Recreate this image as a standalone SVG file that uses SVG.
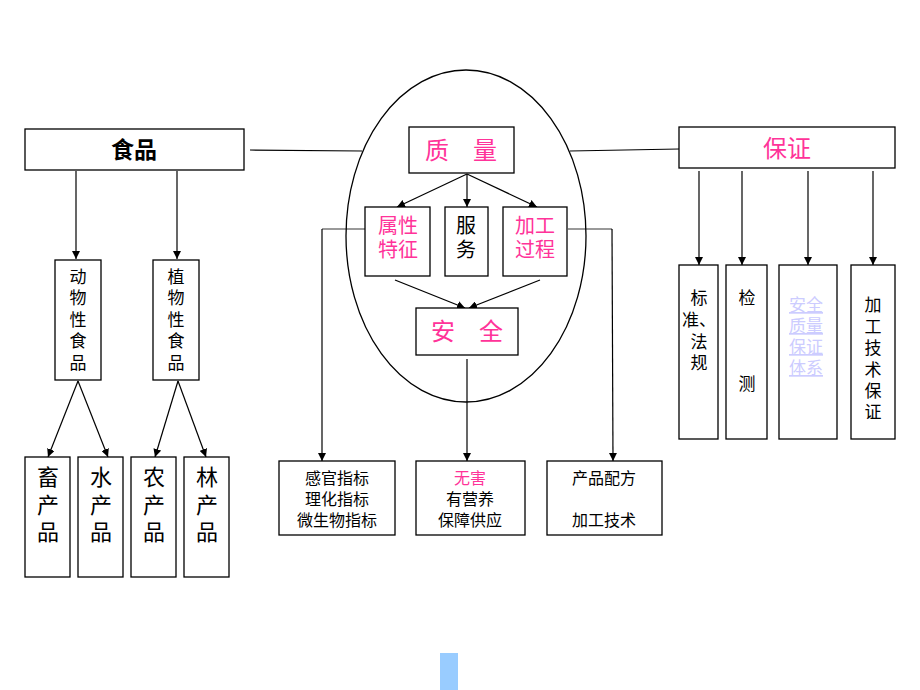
<svg xmlns="http://www.w3.org/2000/svg" width="920" height="690" viewBox="0 0 920 690">
<defs>
<marker id="ah" viewBox="0 0 10 10" refX="10" refY="5" markerWidth="8" markerHeight="8" markerUnits="userSpaceOnUse" orient="auto">
<path d="M0,0 L10,5 L0,10 z" fill="#000"/>
</marker>
<style>
.box{fill:#fff;stroke:#000;stroke-width:1.3}
.t{font-family:"Liberation Sans","Noto Sans CJK SC",sans-serif;text-anchor:middle;fill:#000}
.pk{fill:#FF3399}
.lv{fill:#CCCCFF;text-decoration:underline}
.ln{stroke:#000;stroke-width:1.2;fill:none}
.ar{stroke:#000;stroke-width:1.2;fill:none;marker-end:url(#ah)}
.gr{stroke:#777;stroke-width:1.5;fill:none}
</style>
</defs>
<rect width="920" height="690" fill="#fff"/>

<g id="connectors">
<line class="ln" x1="250" y1="150" x2="362" y2="151"/>
<line class="ln" x1="570" y1="151" x2="679" y2="149"/>
<line class="ar" x1="76" y1="171" x2="76" y2="259"/>
<line class="ar" x1="177" y1="171" x2="177" y2="259"/>
<line class="ar" x1="78" y1="381" x2="48" y2="457"/>
<line class="ar" x1="78" y1="381" x2="108" y2="457"/>
<line class="ar" x1="178" y1="381" x2="155" y2="457"/>
<line class="ar" x1="178" y1="381" x2="206" y2="457"/>
<line class="ar" x1="467" y1="174" x2="397" y2="207"/>
<line class="ar" x1="467" y1="174" x2="467" y2="207"/>
<line class="ar" x1="467" y1="174" x2="537" y2="207"/>
<line class="ar" x1="395" y1="280" x2="465" y2="308"/>
<line class="ar" x1="540" y1="280" x2="469" y2="308"/>
<line class="ar" x1="467" y1="359" x2="467" y2="461"/>
<line class="gr" x1="322" y1="229" x2="365" y2="229"/>
<line class="ar" x1="322" y1="229" x2="322" y2="461"/>
<line class="gr" x1="568" y1="229" x2="612" y2="229"/>
<line class="ar" x1="612" y1="229" x2="613" y2="461"/>
<line class="ar" x1="699" y1="171" x2="699" y2="265"/>
<line class="ar" x1="742" y1="171" x2="742" y2="265"/>
<line class="ar" x1="808" y1="171" x2="808" y2="265"/>
<line class="ar" x1="873" y1="171" x2="873" y2="265"/>
</g>

<g id="ellipse">
<ellipse cx="466" cy="236" rx="120" ry="166" fill="none" stroke="#000" stroke-width="1.3"/>
</g>

<g id="shipin">
<rect class="box" x="25" y="129" width="219" height="41"/>
<text class="t" x="134" y="158" font-size="23" font-weight="bold">食品</text>
</g>

<g id="dongwu">
<rect class="box" x="55" y="260" width="46" height="120"/>
<text class="t" x="78" y="283" font-size="17">动</text>
<text class="t" x="78" y="304" font-size="17">物</text>
<text class="t" x="78" y="326" font-size="17">性</text>
<text class="t" x="78" y="347" font-size="17">食</text>
<text class="t" x="78" y="369" font-size="17">品</text>
</g>
<g id="zhiwu">
<rect class="box" x="153" y="260" width="46" height="120"/>
<text class="t" x="176" y="283" font-size="17">植</text>
<text class="t" x="176" y="304" font-size="17">物</text>
<text class="t" x="176" y="326" font-size="17">性</text>
<text class="t" x="176" y="347" font-size="17">食</text>
<text class="t" x="176" y="369" font-size="17">品</text>
</g>

<g id="xu">
<rect class="box" x="25" y="457" width="45" height="120"/>
<text class="t" x="48" y="485" font-size="22">畜</text>
<text class="t" x="48" y="513" font-size="22">产</text>
<text class="t" x="48" y="540" font-size="22">品</text>
</g>
<g id="shui">
<rect class="box" x="78" y="457" width="45" height="120"/>
<text class="t" x="101" y="485" font-size="22">水</text>
<text class="t" x="101" y="513" font-size="22">产</text>
<text class="t" x="101" y="540" font-size="22">品</text>
</g>
<g id="nong">
<rect class="box" x="131" y="457" width="45" height="120"/>
<text class="t" x="154" y="485" font-size="22">农</text>
<text class="t" x="154" y="513" font-size="22">产</text>
<text class="t" x="154" y="540" font-size="22">品</text>
</g>
<g id="lin">
<rect class="box" x="184" y="457" width="45" height="120"/>
<text class="t" x="207" y="485" font-size="22">林</text>
<text class="t" x="207" y="513" font-size="22">产</text>
<text class="t" x="207" y="540" font-size="22">品</text>
</g>

<g id="zhiliang">
<rect class="box" x="409" y="127" width="105" height="46"/>
<text class="t pk" x="461" y="159" font-size="24" xml:space="preserve">质　量</text>
</g>
<g id="shuxing">
<rect class="box" x="365" y="207" width="65" height="69"/>
<text class="t pk" x="398" y="233" font-size="20">属性</text>
<text class="t pk" x="398" y="257" font-size="20">特征</text>
</g>
<g id="fuwu">
<rect class="box" x="445" y="207" width="43" height="69"/>
<text class="t" x="466" y="233" font-size="20">服</text>
<text class="t" x="466" y="257" font-size="20">务</text>
</g>
<g id="jiagong">
<rect class="box" x="503" y="207" width="64" height="69"/>
<text class="t pk" x="535" y="233" font-size="20">加工</text>
<text class="t pk" x="535" y="257" font-size="20">过程</text>
</g>
<g id="anquan">
<rect class="box" x="416" y="308" width="102" height="47"/>
<text class="t pk" x="467" y="340" font-size="24" xml:space="preserve">安　全</text>
</g>

<g id="ganguan">
<rect class="box" x="279" y="461" width="116" height="74"/>
<text class="t" x="337" y="484" font-size="16">感官指标</text>
<text class="t" x="337" y="505" font-size="16">理化指标</text>
<text class="t" x="337" y="526" font-size="16">微生物指标</text>
</g>
<g id="wuhai">
<rect class="box" x="416" y="461" width="109" height="74"/>
<text class="t pk" x="470" y="484" font-size="16">无害</text>
<text class="t" x="470" y="505" font-size="16">有营养</text>
<text class="t" x="470" y="526" font-size="16">保障供应</text>
</g>
<g id="peifang">
<rect class="box" x="547" y="461" width="115" height="74"/>
<text class="t" x="604" y="484" font-size="16">产品配方</text>
<text class="t" x="604" y="526" font-size="16">加工技术</text>
</g>

<g id="baozheng">
<rect class="box" x="679" y="127" width="216" height="41"/>
<text class="t pk" x="787" y="157" font-size="24">保证</text>
</g>
<g id="biaozhun">
<rect class="box" x="679" y="265" width="39" height="174"/>
<text class="t" x="699" y="304" font-size="17">标</text>
<text class="t" x="699" y="326" font-size="17">准、</text>
<text class="t" x="699" y="348" font-size="17">法</text>
<text class="t" x="699" y="369" font-size="17">规</text>
</g>
<g id="jiance">
<rect class="box" x="726" y="265" width="41" height="174"/>
<text class="t" x="747" y="304" font-size="17">检</text>
<text class="t" x="747" y="390" font-size="17">测</text>
</g>
<g id="tixi">
<rect class="box" x="779" y="265" width="58" height="174"/>
<text class="t lv" x="806" y="311" font-size="17">安全</text>
<text class="t lv" x="806" y="332" font-size="17">质量</text>
<text class="t lv" x="806" y="353" font-size="17">保证</text>
<text class="t lv" x="806" y="374" font-size="17">体系</text>
</g>
<g id="jishu">
<rect class="box" x="851" y="265" width="44" height="174"/>
<text class="t" x="873" y="311" font-size="17">加</text>
<text class="t" x="873" y="333" font-size="17">工</text>
<text class="t" x="873" y="354" font-size="17">技</text>
<text class="t" x="873" y="376" font-size="17">术</text>
<text class="t" x="873" y="397" font-size="17">保</text>
<text class="t" x="873" y="418" font-size="17">证</text>
</g>

<g id="bluebar">
<rect x="440" y="653" width="18" height="37" fill="#99CCFF"/>
</g>
</svg>
